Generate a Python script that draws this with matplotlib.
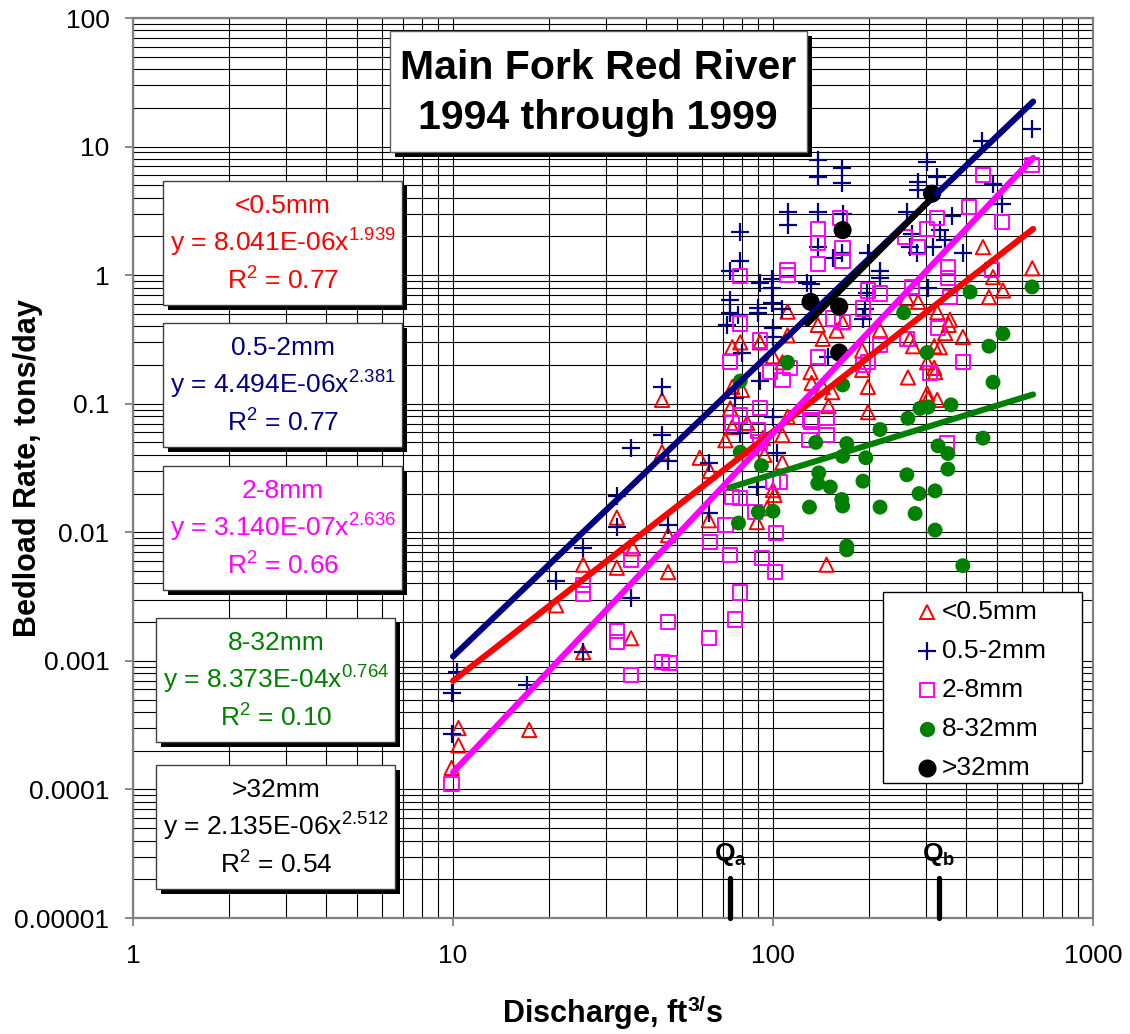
import numpy as np
import matplotlib.pyplot as plt
from matplotlib.patches import Rectangle
from matplotlib.lines import Line2D
from matplotlib.ticker import FixedLocator, LogLocator, NullFormatter

plt.rcParams['font.family'] = ['Liberation Sans', 'DejaVu Sans']
plt.rcParams['mathtext.fontset'] = 'custom'
plt.rcParams['mathtext.rm'] = 'Liberation Sans'
plt.rcParams['mathtext.it'] = 'Liberation Sans:italic'
plt.rcParams['mathtext.bf'] = 'Liberation Sans:bold'

# ---- observed bedload by size class (discharge ft3/s, tons/day) ----
fine_x = [9.9, 10.4, 10.4, 17.3, 21, 25.5, 25.5, 32.5, 32.5, 36, 36.5, 45, 45, 47, 47, 59, 63, 63.5,
          73.5, 74.6, 74.6, 71, 74.6, 79, 91, 100, 111, 111, 107, 80, 83, 93, 107, 111, 94, 107, 100, 101, 89, 96,
          131, 132, 138, 143, 143, 149, 153, 158, 165, 190, 190, 198, 198, 216, 147,
          262, 284, 326, 357, 354, 392, 345, 268, 332, 264, 303, 303, 321, 453, 646, 487, 523, 473, 274, 319, 319, 305, 326]
fine_y = [0.000147, 0.00022, 0.0003, 0.00029, 0.0027, 0.0056, 0.00117, 0.013, 0.0053, 0.0015, 0.0075, 0.107, 0.042, 0.0095, 0.0049, 0.038, 0.0124, 0.030,
          0.092, 0.135, 0.066, 0.052, 0.275, 0.30, 0.30, 0.234, 0.52, 0.34, 0.21, 0.128, 0.071, 0.054, 0.057, 0.079, 0.040, 0.035, 0.0213, 0.0195, 0.012, 0.0154,
          0.176, 0.145, 0.41, 0.32, 0.135, 0.096, 0.123, 0.37, 0.43, 0.26, 0.183, 0.135, 0.086, 0.374, 0.0056,
          0.66, 0.62, 0.515, 0.45, 0.41, 0.33, 0.354, 0.32, 0.275, 0.16, 0.12, 0.21, 0.176, 1.65, 1.13, 0.965, 0.76, 0.675, 0.28, 0.28, 0.19, 0.11, 0.107]

sand_x = [138, 138, 164, 164, 111, 111, 138, 165, 79, 79, 73.5, 91, 99, 99, 131, 154, 164, 138, 198, 216, 216,
          262, 284, 284, 303, 326, 362, 392, 450, 487, 520, 645, 268, 282, 316, 345, 332, 272, 305, 194, 197, 191,
          73.5, 73.5, 90, 90, 99, 107, 78, 72, 100, 100, 80, 91, 149, 76, 79, 100, 103, 89, 128, 63, 63,
          45, 45, 36, 47, 32.5, 32.5, 25.5, 21, 36, 47, 25.5, 17, 10.3, 9.9, 9.9]
sand_y = [7.8, 5.8, 6.8, 5.2, 3.1, 2.45, 3.1, 3.0, 2.16, 1.28, 1.07, 0.87, 0.93, 0.79, 0.85, 1.36, 1.5, 1.65, 1.5, 1.07, 0.95,
          3.1, 5.3, 4.6, 7.6, 5.8, 2.9, 1.48, 11, 5.1, 3.6, 13.6, 1.65, 1.5, 1.65, 1.87, 2.24, 2.1, 0.79, 0.55, 0.72, 0.46,
          0.64, 0.51, 0.56, 0.51, 0.61, 0.55, 0.49, 0.41, 0.39, 0.33, 0.25, 0.15, 0.23, 0.11, 0.059, 0.079, 0.041, 0.0225, 0.87, 0.0345, 0.014,
          0.135, 0.057, 0.045, 0.036, 0.019, 0.011, 0.0075, 0.0042, 0.0031, 0.0114, 0.00117, 0.00065, 0.00082, 0.00056, 0.00027]

gravel_x = [645, 453, 410, 520, 326, 303, 259, 284, 352, 352, 483, 272, 216, 198, 191, 357, 262, 328, 392, 309, 216, 198,
            162, 138, 138, 138, 111, 111, 79, 165, 165, 79, 73.5, 91, 98, 113, 138, 165, 154, 107, 91, 79, 74.6,
            131, 147, 130, 350, 100, 74.6, 102, 63.5, 73.5, 92.5, 101.5, 79, 76, 63, 36, 25.5, 25.5, 32.5, 32.5,
            47, 45, 47.5, 36, 9.9, 90, 91, 105, 79, 88, 71, 132, 147, 191]
gravel_y = [7.2, 6.0, 3.4, 2.6, 2.8, 2.3, 1.97, 1.65, 1.15, 0.95, 1.09, 0.81, 0.72, 0.76, 0.55, 0.675, 0.32, 0.39, 0.21, 0.173, 0.285, 0.21,
            2.8, 2.3, 1.77, 1.22, 1.09, 1.0, 0.98, 1.62, 1.28, 0.42, 0.21, 0.31, 0.176, 0.19, 0.23, 0.43, 0.46, 0.153, 0.092, 0.081, 0.071,
            0.075, 0.057, 0.052, 0.049, 0.0246, 0.0188, 0.0099, 0.0084, 0.0067, 0.0063, 0.0049, 0.0034, 0.0021, 0.0015, 0.0061, 0.0039, 0.0033, 0.0017, 0.0014,
            0.0020, 0.00098, 0.00096, 0.00078, 0.00011, 0.062, 0.050, 0.0246, 0.0185, 0.0144, 0.0114, 0.072, 0.077, 0.20]

pebble_x = [645, 413, 256, 523, 473, 303, 111, 79, 487, 165, 360, 288, 305, 264, 216, 453, 136, 170, 328, 165, 195, 352,
            79, 352, 92, 139, 262, 138, 151, 191, 286, 321, 164, 165, 130, 216, 278, 90, 100, 78, 321, 170, 170, 392]
pebble_y = [0.81, 0.74, 0.51, 0.35, 0.28, 0.25, 0.21, 0.15, 0.147, 0.14, 0.098, 0.092, 0.094, 0.077, 0.063, 0.054, 0.050, 0.049, 0.047, 0.039, 0.038, 0.041,
            0.042, 0.031, 0.033, 0.029, 0.028, 0.024, 0.0225, 0.025, 0.020, 0.021, 0.018, 0.016, 0.0157, 0.0157, 0.014, 0.0144, 0.0146, 0.0118, 0.0104, 0.0078, 0.0073, 0.0055]

cobble_x = [131, 161, 161, 165, 314]
cobble_y = [0.62, 0.57, 0.25, 2.24, 4.3]

# ---- power-law trend lines shown in the boxes ----
class_names = ['<0.5mm', '0.5-2mm', '2-8mm', '8-32mm', '>32mm']
fit_coef = ['8.041E-06', '4.494E-06', '3.140E-07', '8.373E-04', '2.135E-06']
fit_exp = [1.939, 2.381, 2.636, 0.764, 2.512]
fit_r2 = ['0.77', '0.77', '0.66', '0.10', '0.54']
fit_from = [10, 10, 10, 73, 128]
fit_to = [650, 650, 650, 650, 315]

q_a, q_b = 73.5, 330

xticks = [1, 10, 100, 1000]
xtick_labels = ['1', '10', '100', '1000']
yticks = [1e-5, 1e-4, 1e-3, 1e-2, 1e-1, 1, 10, 100]
ytick_labels = ['0.00001', '0.0001', '0.001', '0.01', '0.1', '1', '10', '100']

colors = ['#FF0000', '#000080', '#FF00FF', '#008000', '#000000']

W, H = 1130, 1034
fig = plt.figure(figsize=(W / 100, H / 100), dpi=100)
ax = fig.add_axes([133 / W, 1 - 918 / H, 960 / W, 900 / H])
ax.set_xscale('log')
ax.set_yscale('log')
ax.set_xlim(1, 1000)
ax.set_ylim(1e-5, 100)

ax.xaxis.set_major_locator(FixedLocator(xticks))
ax.set_xticklabels(xtick_labels)
ax.yaxis.set_major_locator(FixedLocator(yticks))
ax.set_yticklabels(ytick_labels)
for axis in (ax.xaxis, ax.yaxis):
    axis.set_minor_locator(LogLocator(base=10, subs=np.arange(2, 10), numticks=20))
    axis.set_minor_formatter(NullFormatter())
ax.tick_params(which='major', direction='out', length=6, width=1.3, color='#808080', labelsize=19, pad=11)
ax.tick_params(axis='x', which='major', pad=13)
ax.tick_params(which='minor', length=0)
ax.grid(True, which='both', color='black', linewidth=0.8)
ax.set_axisbelow(True)
for sp in ax.spines.values():
    sp.set_color('#808080')
    sp.set_linewidth(1.6)

# scatter points
ax.scatter(fine_x, fine_y, marker='^', s=105, facecolors='none', edgecolors=colors[0], linewidths=1.4, zorder=3)
ax.scatter(sand_x, sand_y, marker='+', s=170, color=colors[1], linewidths=1.6, zorder=3)
ax.scatter(gravel_x, gravel_y, marker='s', s=105, facecolors='none', edgecolors=colors[2], linewidths=1.4, zorder=3)
ax.scatter(pebble_x, pebble_y, marker='o', s=115, color=colors[3], edgecolors='none', zorder=3)
ax.scatter(cobble_x, cobble_y, marker='o', s=170, color=colors[4], edgecolors='none', zorder=3)

# trend lines
draw_order = [1, 4, 0, 2, 3]
for i in draw_order:
    xx = np.logspace(np.log10(fit_from[i]), np.log10(fit_to[i]), 50)
    yy = float(fit_coef[i]) * xx ** fit_exp[i]
    ax.plot(xx, yy, color=colors[i], linewidth=4.4, solid_capstyle='round', zorder=4)

# Qa / Qb markers
for q, lab in [(q_a, r'$\mathbf{Q_a}$'), (q_b, r'$\mathbf{Q_b}$')]:
    ax.plot([q, q], [1e-5, 2.05e-5], color='black', linewidth=3.8, solid_capstyle='round', zorder=5, clip_on=False)
    ax.text(q, 3.1e-5, lab, ha='center', va='center', fontsize=19, zorder=5)

ax.set_xlabel(r'Discharge, ft$^{\mathbf{3/}}$s', fontsize=22, fontweight='bold')
ax.xaxis.set_label_coords(0.5, -0.083)
ax.set_ylabel('Bedload Rate, tons/day', fontsize=22, fontweight='bold')
ax.yaxis.set_label_coords(-0.094, 0.5)


def fx(px):
    return px / W


def fy(py):
    return 1 - py / H


def shadow_box(left, top, right, bottom, edge='#404040', off=5, lw=1.0):
    fig.add_artist(Rectangle((fx(left + off), fy(bottom + off)), (right - left) / W, (bottom - top) / H,
                             transform=fig.transFigure, facecolor='black', edgecolor='none', zorder=10))
    fig.add_artist(Rectangle((fx(left), fy(bottom)), (right - left) / W, (bottom - top) / H,
                             transform=fig.transFigure, facecolor='white', edgecolor=edge, linewidth=lw, zorder=11))


# title box
shadow_box(390, 31, 807, 152, edge='#606060')
fig.text(fx(598), fy(79), 'Main Fork Red River', ha='center', va='baseline', fontsize=29.5, fontweight='bold', zorder=12)
fig.text(fx(598), fy(129), '1994 through 1999', ha='center', va='baseline', fontsize=29.5, fontweight='bold', zorder=12)

# equation boxes
box_left = [163, 163, 163, 156, 156]
box_top = [181, 323, 466, 618, 765]
for i in range(5):
    l, t = box_left[i], box_top[i]
    shadow_box(l, t, l + 239, t + 124)
    cx = l + 120
    fig.text(fx(cx), fy(t + 32), class_names[i], ha='center', va='baseline', fontsize=19, color=colors[i], zorder=12)
    fig.text(fx(cx), fy(t + 71), 'y = %sx$^{\\mathregular{%.3f}}$' % (fit_coef[i], fit_exp[i]),
             ha='center', va='baseline', fontsize=19, color=colors[i], zorder=12)
    fig.text(fx(cx), fy(t + 109), 'R$^{\\mathregular{2}}$ = %s' % fit_r2[i], ha='center', va='baseline',
             fontsize=19, color=colors[i], zorder=12)

# legend box
fig.add_artist(Rectangle((fx(883), fy(783)), 199 / W, 191 / H, transform=fig.transFigure,
                         facecolor='white', edgecolor='black', linewidth=1.0, zorder=10))
leg_markers = [dict(marker='^', markersize=10.5, markerfacecolor='none', markeredgecolor=colors[0], markeredgewidth=1.4),
               dict(marker='+', markersize=13, color=colors[1], markeredgewidth=1.6),
               dict(marker='s', markersize=10.5, markerfacecolor='none', markeredgecolor=colors[2], markeredgewidth=1.4),
               dict(marker='o', markersize=11, markerfacecolor=colors[3], markeredgecolor='none'),
               dict(marker='o', markersize=13, markerfacecolor=colors[4], markeredgecolor='none')]
for i in range(5):
    yrow = 612 + 39 * i
    fig.add_artist(Line2D([fx(927)], [fy(yrow)], linestyle='none', transform=fig.transFigure, zorder=12, **leg_markers[i]))
    fig.text(fx(942), fy(yrow), class_names[i], ha='left', va='center', fontsize=19, zorder=12)

fig.savefig('out.png', dpi=100)
